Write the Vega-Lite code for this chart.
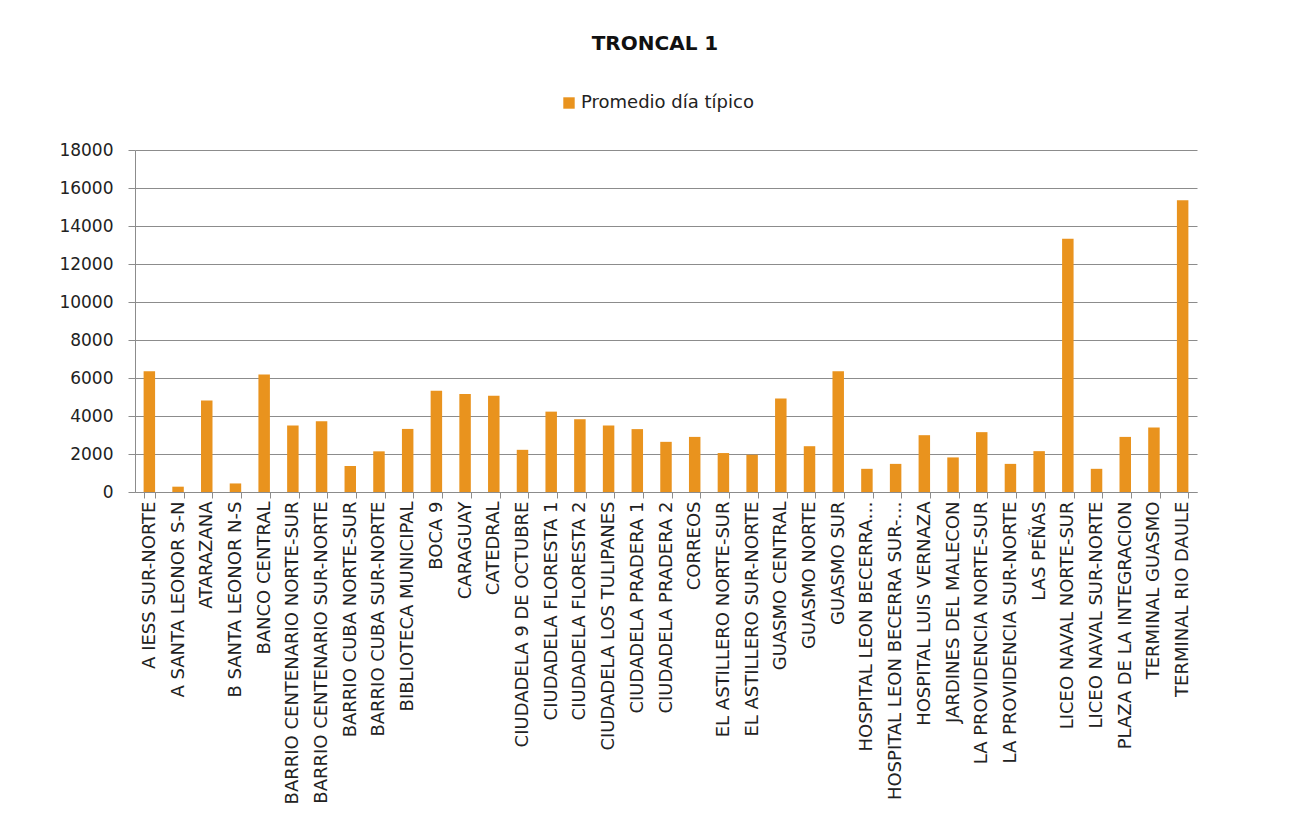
{
  "$schema": "https://vega.github.io/schema/vega-lite/v6.json",
  "width": 1062,
  "height": 342,
  "autosize": {"type": "none"},
  "padding": {"left": 135, "top": 150, "right": 113, "bottom": 334},
  "background": "white",
  "title": {
    "text": "TRONCAL 1",
    "font": "DejaVu Sans",
    "fontSize": 20,
    "fontWeight": "bold",
    "color": "#111111",
    "anchor": "middle",
    "frame": "group",
    "dx": -11,
    "offset": 40
  },
  "data": {
    "values": [
      {"parada": "A IESS SUR-NORTE", "serie": "Promedio día típico", "valor": 6350},
      {"parada": "A SANTA LEONOR S-N", "serie": "Promedio día típico", "valor": 280},
      {"parada": "ATARAZANA", "serie": "Promedio día típico", "valor": 4820},
      {"parada": "B SANTA LEONOR N-S", "serie": "Promedio día típico", "valor": 450},
      {"parada": "BANCO CENTRAL", "serie": "Promedio día típico", "valor": 6180},
      {"parada": "BARRIO CENTENARIO NORTE-SUR", "serie": "Promedio día típico", "valor": 3500},
      {"parada": "BARRIO CENTENARIO SUR-NORTE", "serie": "Promedio día típico", "valor": 3730},
      {"parada": "BARRIO CUBA NORTE-SUR", "serie": "Promedio día típico", "valor": 1370},
      {"parada": "BARRIO CUBA SUR-NORTE", "serie": "Promedio día típico", "valor": 2140},
      {"parada": "BIBLIOTECA MUNICIPAL", "serie": "Promedio día típico", "valor": 3320},
      {"parada": "BOCA 9", "serie": "Promedio día típico", "valor": 5330},
      {"parada": "CARAGUAY", "serie": "Promedio día típico", "valor": 5160},
      {"parada": "CATEDRAL", "serie": "Promedio día típico", "valor": 5070},
      {"parada": "CIUDADELA 9 DE OCTUBRE", "serie": "Promedio día típico", "valor": 2220},
      {"parada": "CIUDADELA FLORESTA 1", "serie": "Promedio día típico", "valor": 4230},
      {"parada": "CIUDADELA FLORESTA 2", "serie": "Promedio día típico", "valor": 3830},
      {"parada": "CIUDADELA LOS TULIPANES", "serie": "Promedio día típico", "valor": 3500},
      {"parada": "CIUDADELA PRADERA 1", "serie": "Promedio día típico", "valor": 3310},
      {"parada": "CIUDADELA PRADERA 2", "serie": "Promedio día típico", "valor": 2640},
      {"parada": "CORREOS", "serie": "Promedio día típico", "valor": 2900},
      {"parada": "EL ASTILLERO NORTE-SUR", "serie": "Promedio día típico", "valor": 2050},
      {"parada": "EL ASTILLERO SUR-NORTE", "serie": "Promedio día típico", "valor": 1960},
      {"parada": "GUASMO CENTRAL", "serie": "Promedio día típico", "valor": 4920},
      {"parada": "GUASMO NORTE", "serie": "Promedio día típico", "valor": 2410},
      {"parada": "GUASMO SUR", "serie": "Promedio día típico", "valor": 6350},
      {"parada": "HOSPITAL LEON BECERRA…", "serie": "Promedio día típico", "valor": 1220},
      {"parada": "HOSPITAL LEON BECERRA SUR-…", "serie": "Promedio día típico", "valor": 1480},
      {"parada": "HOSPITAL LUIS VERNAZA", "serie": "Promedio día típico", "valor": 2990},
      {"parada": "JARDINES DEL MALECON", "serie": "Promedio día típico", "valor": 1820},
      {"parada": "LA PROVIDENCIA NORTE-SUR", "serie": "Promedio día típico", "valor": 3150},
      {"parada": "LA PROVIDENCIA SUR-NORTE", "serie": "Promedio día típico", "valor": 1480},
      {"parada": "LAS PEÑAS", "serie": "Promedio día típico", "valor": 2150},
      {"parada": "LICEO NAVAL NORTE-SUR", "serie": "Promedio día típico", "valor": 13330},
      {"parada": "LICEO NAVAL SUR-NORTE", "serie": "Promedio día típico", "valor": 1220},
      {"parada": "PLAZA DE LA INTEGRACION", "serie": "Promedio día típico", "valor": 2900},
      {"parada": "TERMINAL GUASMO", "serie": "Promedio día típico", "valor": 3390},
      {"parada": "TERMINAL RIO DAULE", "serie": "Promedio día típico", "valor": 15350}
    ]
  },
  "mark": {"type": "bar"},
  "encoding": {
    "x": {
      "field": "parada",
      "type": "nominal",
      "sort": null,
      "title": null,
      "scale": {"paddingInner": 0.6, "paddingOuter": 0.3},
      "axis": {
        "labelAngle": -90,
        "labelFont": "DejaVu Sans",
        "labelFontSize": 18,
        "labelColor": "#222222",
        "labelLimit": 400,
        "labelPadding": 3,
        "tickBand": "extent",
        "tickSize": 6,
        "tickColor": "#8c8c8c",
        "domainColor": "#8c8c8c",
        "grid": false
      }
    },
    "y": {
      "field": "valor",
      "type": "quantitative",
      "title": null,
      "scale": {"domain": [0, 18000], "nice": false},
      "axis": {
        "values": [0, 2000, 4000, 6000, 8000, 10000, 12000, 14000, 16000, 18000],
        "format": "d",
        "labelFont": "DejaVu Sans",
        "labelFontSize": 17,
        "labelColor": "#222222",
        "labelPadding": 15,
        "tickSize": 7,
        "tickColor": "#8c8c8c",
        "domainColor": "#8c8c8c",
        "grid": true,
        "gridColor": "#8c8c8c",
        "gridWidth": 1
      }
    },
    "color": {
      "field": "serie",
      "type": "nominal",
      "scale": {"range": ["#E9931E"]},
      "legend": {
        "title": null,
        "orient": "none",
        "legendX": 425,
        "legendY": -56,
        "symbolType": "square",
        "symbolSize": 130,
        "labelFont": "DejaVu Sans",
        "labelFontSize": 18,
        "labelColor": "#222222",
        "labelOffset": 3,
        "labelLimit": 400
      }
    }
  },
  "config": {
    "view": {"stroke": null}
  }
}
